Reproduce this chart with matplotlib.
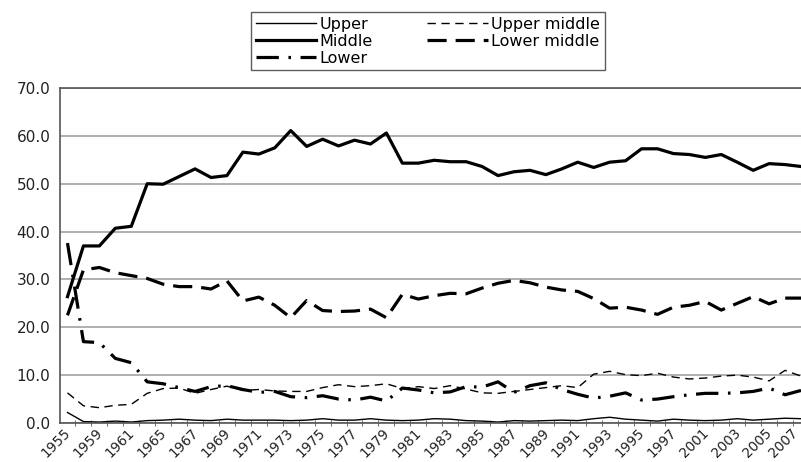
import numpy as np
import matplotlib
matplotlib.use("Agg")
import matplotlib.pyplot as plt
import matplotlib.transforms as mtransforms
from matplotlib.ticker import FixedLocator

# survey years (x categories), only every other one gets a label
years = ["1955", "1958", "1959", "1960", "1961", "1963"] + \
        [str(y) for y in range(1965, 1998)] + \
        ["1999", "2001", "2002", "2003", "2004", "2005", "2006", "2007"]

# share of respondents (%) per class
upper = [2.2, 0.3, 0.2, 0.4, 0.2, 0.5, 0.6, 0.8, 0.6, 0.5, 0.8, 0.6, 0.6, 0.6, 0.5, 0.6,
         0.9, 0.6, 0.6, 0.9, 0.6, 0.5, 0.6, 0.9, 0.8, 0.5, 0.4, 0.2, 0.5, 0.4, 0.5, 0.6,
         0.5, 0.9, 1.2, 0.8, 0.6, 0.4, 0.8, 0.6, 0.5, 0.6, 0.9, 0.6, 0.8, 1.0, 0.9]
upper_middle = [6.3, 3.6, 3.2, 3.7, 3.9, 6.2, 7.2, 7.3, 6.2, 7.0, 7.7, 6.8, 7.0, 6.7, 6.6, 6.6,
                7.4, 8.0, 7.6, 7.8, 8.2, 7.2, 7.6, 7.2, 7.8, 7.1, 6.3, 6.2, 6.6, 7.0, 7.4, 7.8,
                7.4, 10.2, 10.8, 10.1, 9.9, 10.4, 9.6, 9.2, 9.4, 9.8, 10.0, 9.6, 8.8, 11.0, 9.8]
middle = [26.4, 37.0, 37.0, 40.7, 41.1, 50.0, 49.9, 51.5, 53.1, 51.3, 51.7, 56.6, 56.2, 57.5,
          61.1, 57.8, 59.3, 57.9, 59.1, 58.3, 60.6, 54.3, 54.3, 54.9, 54.6, 54.6, 53.6, 51.7,
          52.5, 52.8, 51.9, 53.1, 54.5, 53.4, 54.5, 54.8, 57.3, 57.3, 56.3, 56.1, 55.5, 56.1,
          54.5, 52.8, 54.2, 54.0, 53.6]
lower_middle = [22.5, 32.0, 32.5, 31.4, 30.8, 30.2, 29.0, 28.5, 28.5, 28.0, 29.7, 25.5, 26.3,
                24.6, 22.0, 25.6, 23.5, 23.3, 23.4, 23.8, 22.0, 26.9, 25.9, 26.6, 27.1, 27.0,
                28.2, 29.2, 29.8, 29.3, 28.4, 27.8, 27.5, 26.0, 24.0, 24.2, 23.6, 22.7, 24.2,
                24.6, 25.4, 23.6, 25.0, 26.4, 24.9, 26.1, 26.1]
lower = [37.6, 17.0, 16.8, 13.5, 12.6, 8.6, 8.2, 7.4, 6.6, 7.6, 7.8, 7.0, 6.4, 6.6, 5.5, 5.3,
         5.7, 5.0, 4.8, 5.4, 4.6, 7.3, 6.9, 6.3, 6.5, 7.6, 7.5, 8.6, 6.4, 7.8, 8.4, 7.0, 6.0,
         5.2, 5.6, 6.3, 4.8, 5.0, 5.5, 5.9, 6.2, 6.2, 6.3, 6.6, 7.3, 5.9, 6.8]

plt.rcParams['font.family'] = ['DejaVu Sans']

x = np.arange(len(years))

fig = plt.figure(figsize=(8.01, 4.62), dpi=100)
ax = fig.add_axes([0.0749, 0.0844, 0.9251, 0.7251])

# plot order: Upper, Middle, Lower, Upper middle, Lower middle -> 2 legend columns
l_up, = ax.plot(x, upper, color='black', lw=1.0, label='Upper')
l_mid, = ax.plot(x, middle, color='black', lw=2.3, label='Middle')
l_low, = ax.plot(x, lower, color='black', lw=2.3, dashes=(7, 3, 0.8, 3), label='Lower')
l_um, = ax.plot(x, upper_middle, color='black', lw=1.0, dashes=(6, 4), label='Upper middle')
l_lm, = ax.plot(x, lower_middle, color='black', lw=2.3, dashes=(6, 2.8), label='Lower middle')

ax.set_ylim(0, 70)
ax.set_xlim(-0.47, 46.0)
ax.set_yticks(np.arange(0, 71, 10))
ax.set_yticklabels(["%.1f" % v for v in np.arange(0, 71, 10)])
ax.yaxis.grid(True, color='#9a9a9a', lw=1.1)
ax.set_axisbelow(True)

# labels on every other category, tick marks on the category borders
ax.set_xticks(x[::2])
ax.set_xticklabels(years[::2], rotation=45, ha='right', va='top', rotation_mode='anchor')
ax.xaxis.set_minor_locator(FixedLocator(np.arange(-0.5, len(years), 1)))
ax.tick_params(axis='x', which='major', length=0, pad=2, labelsize=9.8, colors='#222222')
ax.tick_params(axis='x', which='minor', length=5, direction='inout', color='#555555')
ax.tick_params(axis='y', length=0, pad=7, labelsize=11, colors='#222222')

# nudge the rotated year labels a little left so 2007 stays inside the picture
xlabels = ax.get_xticklabels()
for k, lbl in enumerate(xlabels):
    dx = -10 if k == len(xlabels) - 1 else -4
    shift = mtransforms.ScaledTranslation(dx / 100, 0, fig.dpi_scale_trans)
    lbl.set_transform(lbl.get_transform() + shift)

for side in ['left', 'bottom', 'top']:
    ax.spines[side].set_color('#555555')
    ax.spines[side].set_linewidth(1.2)
ax.spines['right'].set_visible(False)

leg = fig.legend(handles=[l_up, l_mid, l_low, l_um, l_lm], ncol=2,
                 loc='upper center', bbox_to_anchor=(0.534, 0.974), borderaxespad=0,
                 fontsize=11.5, handlelength=3.8, handletextpad=0.2,
                 columnspacing=3.4, labelspacing=0.12, borderpad=0.3,
                 fancybox=False, frameon=True, edgecolor='#333333')
leg.get_frame().set_linewidth(1.0)

plt.savefig('out.png', dpi=100)
